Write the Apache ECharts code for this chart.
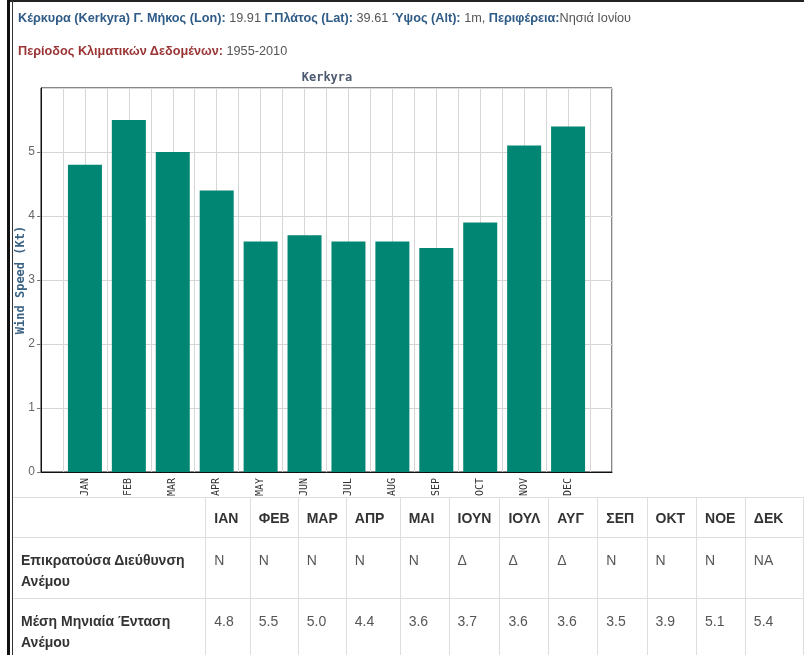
<!DOCTYPE html>
<html>
<head>
<meta charset="utf-8">
<script src="https://cdn.jsdelivr.net/npm/echarts@6/dist/echarts.min.js"></script>
<style>
  html, body { margin: 0; padding: 0; width: 804px; height: 655px; overflow: hidden; background: #fff; }
  #chart { position: absolute; left: 0; top: 0; width: 804px; height: 655px; }
  .frame1 { position: absolute; left: 7px; top: 0; width: 3px; height: 655px; background: #111; }
  .frame2 { position: absolute; left: 12px; top: 0; width: 1px; height: 655px; background: #333; }
  .frametop { position: absolute; left: 7px; top: 0; width: 797px; height: 2px; background: #222; }
  .info { position: absolute; left: 18px; font-family: "Liberation Sans", Arial, sans-serif; font-size: 12.7px; color: #555; white-space: nowrap; }
  .info b.blue { color: #2f5b86; }
  .info b.red { color: #9b3535; }
  table { position: absolute; left: 13px; top: 497px; border-collapse: collapse; table-layout: fixed;
          font-family: "Liberation Sans", Arial, sans-serif; font-size: 14px; color: #555; }
  td, th { border: 1px solid #dedede; padding: 12px 8px 6px 8px; line-height: 21px; text-align: left; vertical-align: top; overflow: hidden; white-space: nowrap; }
  th { color: #333; font-weight: bold; padding: 10px 8px 8px 8px; vertical-align: middle; }
  td.lab { color: #333; font-weight: bold; white-space: normal; }
  table tr:first-child th { border-top: 1px solid #dedede; }
  table tr td:first-child, table tr th:first-child { border-left: none; }
</style>
</head>
<body>
<div id="chart"></div>
<div class="frametop"></div>
<div class="frame1"></div>
<div class="frame2"></div>
<div class="info" style="top:11px;"><b class="blue">Κέρκυρα (Kerkyra) Γ. Μήκος (Lon):</b> 19.91 <b class="blue">Γ.Πλάτος (Lat):</b> 39.61 <b class="blue">Ύψος (Alt):</b> 1m, <b class="blue">Περιφέρεια:</b>Νησιά Ιονίου</div>
<div class="info" style="top:44px;"><b class="red">Περίοδος Κλιματικών Δεδομένων:</b> 1955-2010</div>
<table id="tbl"></table>
<script>
// ---- data ----
const months = ['JAN','FEB','MAR','APR','MAY','JUN','JUL','AUG','SEP','OCT','NOV','DEC'];
const windSpeed = [4.8, 5.5, 5.0, 4.4, 3.6, 3.7, 3.6, 3.6, 3.5, 3.9, 5.1, 5.4];
const greekMonths = ['ΙΑΝ','ΦΕΒ','ΜΑΡ','ΑΠΡ','ΜΑΙ','ΙΟΥΝ','ΙΟΥΛ','ΑΥΓ','ΣΕΠ','ΟΚΤ','ΝΟΕ','ΔΕΚ'];
const windDir = ['N','N','N','N','N','Δ','Δ','Δ','N','N','N','NA'];
const windText = ['4.8','5.5','5.0','4.4','3.6','3.7','3.6','3.6','3.5','3.9','5.1','5.4'];
const rowLabels = ['Επικρατούσα Διεύθυνση Ανέμου', 'Μέση Μηνιαία Ένταση Ανέμου'];
const yTicks = [0, 1, 2, 3, 4, 5, 6];

// ---- table ----
const colW = [207, 45, 47, 48, 55, 50, 50, 48, 50, 50, 50, 49, 60];
let html = '<colgroup>' + colW.map(w => '<col style="width:' + w + 'px">').join('') + '</colgroup>';
html += '<tr><th></th>' + greekMonths.map(m => '<th>' + m + '</th>').join('') + '</tr>';
html += '<tr style="height:61px"><td class="lab">' + rowLabels[0] + '</td>' + windDir.map(d => '<td>' + d + '</td>').join('') + '</tr>';
html += '<tr style="height:61px"><td class="lab">' + rowLabels[1] + '</td>' + windText.map(d => '<td>' + d + '</td>').join('') + '</tr>';
document.getElementById('tbl').innerHTML = html;

// ---- chart ----
const chart = echarts.init(document.getElementById('chart'), null, { renderer: 'canvas' });
const barData = windSpeed.map((v, i) => [i + 1, v]);
chart.setOption({
  animation: false,
  backgroundColor: 'transparent',
  title: {
    text: 'Kerkyra',
    left: 327, top: 72, textAlign: 'center', padding: 0,
    textStyle: { fontFamily: 'DejaVu Sans Mono', fontWeight: 'bold', fontSize: 12, color: '#4b5a6e' }
  },
  grid: { left: 41, top: 88, width: 571, height: 384, show: true, borderColor: '#111', borderWidth: 1, containLabel: false },
  xAxis: {
    type: 'value', min: 0, max: months.length + 1, interval: 0.5,
    axisLine: { show: true, lineStyle: { color: '#111', width: 1 } },
    axisTick: { show: false },
    splitLine: { show: true, lineStyle: { color: '#d6d6d6', width: 1 } },
    axisLabel: {
      rotate: 90, margin: 6, fontFamily: 'DejaVu Sans Mono', fontSize: 10, color: '#333',
      showMinLabel: false, showMaxLabel: false,
      formatter: v => (Number.isInteger(v) && v >= 1 && v <= months.length) ? months[v - 1] : ''
    }
  },
  yAxis: {
    type: 'value', min: yTicks[0], max: yTicks[yTicks.length - 1], interval: 1,
    name: 'Wind Speed (Kt)', nameLocation: 'middle', nameGap: 14, nameRotate: 90, nameMoveOverlap: false,
    nameTextStyle: { fontFamily: 'DejaVu Sans Mono', fontWeight: 'bold', fontSize: 12, color: '#3b6384' },
    axisLine: { show: true, lineStyle: { color: '#111' } },
    axisTick: { show: true, length: 4, lineStyle: { color: '#777' } },
    splitLine: { show: true, lineStyle: { color: '#d6d6d6' } },
    axisLabel: { showMaxLabel: false, margin: 6, fontFamily: 'Liberation Sans', fontSize: 12, color: '#666' }
  },
  series: [{
    type: 'bar', data: barData, barWidth: 34,
    itemStyle: { color: '#008672' }
  }]
});
</script>
</body>
</html>
